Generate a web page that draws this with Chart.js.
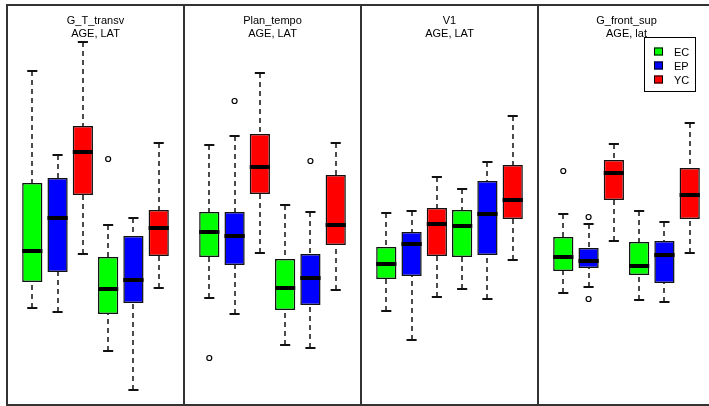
<!DOCTYPE html>
<html>
<head>
<meta charset="utf-8">
<script src="https://cdn.jsdelivr.net/npm/chart.js@4.4.0/dist/chart.umd.min.js"></script>
<style>
    html, body { margin: 0; padding: 0; width: 709px; height: 406px; overflow: hidden; background: #fff; }
    .moldura { position: absolute; left: 6px; top: 4px; width: 760px; height: 398px; border: 2px solid #333; }
    .divisor { position: absolute; top: 4px; width: 2px; height: 402px; background: #333; }
    .painel { position: absolute; top: 5px; }
</style>
</head>
<body>
<div class="moldura"></div>
<div id="paineis"></div>

<script>
/* ================= DADOS ================= */
const panelTitles = ['G_T_transv', 'Plan_tempo', 'V1', 'G_front_sup'];
const panelSubtitles = ['AGE, LAT', 'AGE, LAT', 'AGE, LAT', 'AGE, lat'];
const groups = ['EC', 'EP', 'YC'];
const positions = [1, 2, 3, 4, 5, 6];
const boxGroup = [0, 1, 2, 0, 1, 2];

// one row per panel, one value per box
const whiskerHigh = [
    [333, 249, 362, 179, 186, 261],
    [259, 268, 331, 199, 192, 261],
    [191, 193, 227, 215, 242, 288],
    [190, 180, 260, 193, 182, 281]
];
const upperQuartile = [
    [221, 226, 278, 147, 168, 194],
    [192, 192, 270, 145, 150, 229],
    [157, 172, 196, 194, 223, 239],
    [167, 156, 244, 162, 163, 236]
];
const medians = [
    [153, 186, 252, 115, 124, 176],
    [172, 168, 237, 116, 126, 179],
    [140, 160, 180, 178, 190, 204],
    [147, 143, 231, 138, 149, 209]
];
const lowerQuartile = [
    [122, 132, 209, 90, 101, 148],
    [147, 139, 210, 94, 99, 159],
    [125, 128, 148, 147, 149, 185],
    [133, 136, 204, 129, 121, 185]
];
const whiskerLow = [
    [96, 92, 150, 53, 14, 116],
    [106, 90, 151, 59, 56, 114],
    [93, 64, 107, 115, 105, 144],
    [111, 117, 163, 104, 102, 151]
];
// [posicao, valor]
const outliers = [
    [[4, 245]],
    [[1, 46], [2, 303], [5, 243]],
    [],
    [[1, 233], [2, 187], [2, 105]]
];

const groupColors = ['#00ff00', '#0000ff', '#ff0000'];
const fonte = '11px "Liberation Sans", Arial, sans-serif';

/* ================= PLUGIN: BIGODES, MEDIANAS, TITULOS ================= */
const boxExtras = {
    id: 'boxExtras',
    afterDatasetsDraw: function (chart, args, opts) {
        const p = opts.panel;
        const ctx = chart.ctx;
        const y = chart.scales.y;
        const meta = chart.getDatasetMeta(0);
        ctx.save();
        ctx.strokeStyle = '#111';
        meta.data.forEach(function (bar, i) {
            const x = Math.round(bar.x);
            const w = bar.width;
            const yHi = Math.round(y.getPixelForValue(whiskerHigh[p][i]));
            const yLo = Math.round(y.getPixelForValue(whiskerLow[p][i]));
            const yQ3 = y.getPixelForValue(upperQuartile[p][i]);
            const yQ1 = y.getPixelForValue(lowerQuartile[p][i]);

            // bigodes tracejados
            ctx.lineWidth = 1.5;
            ctx.setLineDash([5, 4]);
            ctx.beginPath();
            ctx.moveTo(x, yHi);
            ctx.lineTo(x, yQ3);
            ctx.moveTo(x, yLo);
            ctx.lineTo(x, yQ1);
            ctx.stroke();
            ctx.setLineDash([]);

            // tampas
            ctx.lineWidth = 2;
            ctx.beginPath();
            ctx.moveTo(bar.x - w / 4, yHi);
            ctx.lineTo(bar.x + w / 4, yHi);
            ctx.moveTo(bar.x - w / 4, yLo);
            ctx.lineTo(bar.x + w / 4, yLo);
            ctx.stroke();

            // mediana
            const yMed = Math.round(y.getPixelForValue(medians[p][i]));
            ctx.strokeStyle = '#000';
            ctx.lineWidth = 4;
            ctx.beginPath();
            ctx.moveTo(bar.x - w / 2, yMed);
            ctx.lineTo(bar.x + w / 2, yMed);
            ctx.stroke();
            ctx.strokeStyle = '#111';
        });
        ctx.restore();
    },
    afterDraw: function (chart, args, opts) {
        const p = opts.panel;
        const ctx = chart.ctx;
        const cx = (chart.chartArea.left + chart.chartArea.right) / 2;
        ctx.save();
        ctx.fillStyle = '#000';
        ctx.font = fonte;
        ctx.textAlign = 'center';
        ctx.textBaseline = 'alphabetic';
        ctx.fillText(panelTitles[p], cx, 19);
        ctx.fillText(panelSubtitles[p], cx, 31.5);

        // legenda so no ultimo painel
        if (p === panelTitles.length - 1) {
            ctx.lineWidth = 1;
            ctx.strokeStyle = '#000';
            ctx.strokeRect(106.5, 32.5, 51, 54);
            ctx.textAlign = 'left';
            groups.forEach(function (g, k) {
                const base = 50.5 + k * 14;
                ctx.fillStyle = groupColors[k];
                ctx.fillRect(116, base - 8, 9, 8);
                ctx.strokeRect(116.5, base - 7.5, 8, 7);
                ctx.fillStyle = '#000';
                ctx.fillText(g, 136, base);
            });
        }
        ctx.restore();
    }
};

/* ================= PAINEIS ================= */
const container = document.getElementById('paineis');

panelTitles.forEach(function (titulo, p) {
    const left = 7 + 177 * p;
    if (p > 0) {
        const div = document.createElement('div');
        div.className = 'divisor';
        div.style.left = (left - 1) + 'px';
        container.appendChild(div);
    }
    const canvas = document.createElement('canvas');
    canvas.className = 'painel';
    canvas.width = 177;
    canvas.height = 399;
    canvas.style.left = left + 'px';
    container.appendChild(canvas);

    new Chart(canvas.getContext('2d'), {
        type: 'bar',
        data: {
            datasets: [{
                label: titulo,
                data: positions.map(function (x, i) {
                    return { x: x, y: [lowerQuartile[p][i], upperQuartile[p][i]] };
                }),
                backgroundColor: boxGroup.map(function (g) { return groupColors[g]; }),
                borderColor: '#111',
                borderWidth: 1.5,
                borderSkipped: false,
                categoryPercentage: 0.8,
                barPercentage: 1
            }, {
                type: 'scatter',
                label: 'outliers',
                data: outliers[p].map(function (o) { return { x: o[0], y: o[1] }; }),
                pointStyle: 'circle',
                pointRadius: 2.5,
                pointBorderWidth: 1.2,
                borderColor: '#000',
                backgroundColor: 'rgba(0,0,0,0)'
            }]
        },
        options: {
            responsive: false,
            animation: false,
            devicePixelRatio: 1,
            layout: { padding: 0, autoPadding: false },
            scales: {
                x: { type: 'linear', min: 0, max: 7, offset: false, display: false, ticks: { stepSize: 1 } },
                y: { type: 'linear', min: 0, max: 399, display: false }
            },
            plugins: {
                legend: { display: false },
                tooltip: { enabled: false },
                boxExtras: { panel: p }
            }
        },
        plugins: [boxExtras]
    });
});
</script>
</body>
</html>
